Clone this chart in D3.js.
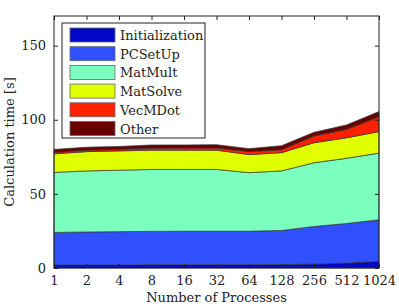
<!DOCTYPE html>
<html>
<head>
    <meta charset="utf-8">
    <script src="https://d3js.org/d3.v7.min.js"></script>
    <style>
        body { margin: 0; background: #fff; }
        text { font-family: "DejaVu Serif", serif; fill: #222; }
    </style>
</head>
<body></body>
<script>
    var processes = ["1", "2", "4", "8", "16", "32", "64", "128", "256", "512", "1024"];
    var seriesNames = ["Initialization", "PCSetUp", "MatMult", "MatSolve", "VecMDot", "Other"];
    var seriesColors = ["#0008c8", "#3050ff", "#7affbf", "#e0ff00", "#ff2000", "#6a0000"];

    var initialization = [2, 2, 2, 2.2, 2.2, 2.2, 2.2, 2.3, 2.7, 3.3, 4.5];
    var pcSetUp = [22, 22.3, 22.5, 22.5, 22.6, 22.6, 22.6, 23, 25.3, 26.7, 28];
    var matMult = [40.5, 41.2, 41.5, 41.8, 41.7, 41.7, 39.5, 40.2, 43, 44, 45];
    var matSolve = [12.5, 13, 13, 13, 13, 13, 12.2, 12.3, 13.5, 13.8, 14.5];
    var vecMDot = [1, 1, 1, 1.3, 1.5, 1.5, 2, 2, 4.5, 5.7, 10];
    var other = [2, 2, 2, 2.2, 2, 2.2, 2, 2.7, 2.5, 3, 3.5];

    var yTicks = [0, 50, 100, 150];

    var margin = {top: 16, right: 20, bottom: 39, left: 54},
        width = 379 - 54,
        height = 268 - 16;
    var fs = 13;

    var svg = d3.select("body").append("svg")
        .attr("width", 399)
        .attr("height", 307)
      .append("g")
        .attr("transform", "translate(" + margin.left + "," + margin.top + ")");

    var x = d3.scalePoint().domain(processes).range([0, width]);
    var y = d3.scaleLinear().domain([0, 170]).range([height, 0]);

    var all = [initialization, pcSetUp, matMult, matSolve, vecMDot, other];
    var rows = processes.map(function(p, i) {
        var r = {p: p};
        seriesNames.forEach(function(n, k) { r[n] = all[k][i]; });
        return r;
    });

    var stacked = d3.stack().keys(seriesNames)(rows);

    var area = d3.area()
        .x(function(d) { return x(d.data.p); })
        .y0(function(d) { return y(d[0]); })
        .y1(function(d) { return y(d[1]); });

    svg.selectAll(".layer").data(stacked).enter()
        .append("path")
            .attr("class", "layer")
            .attr("d", area)
            .attr("fill", function(d, i) { return seriesColors[i]; })
            .attr("stroke", "#333")
            .attr("stroke-width", 0.7)
            .attr("stroke-linejoin", "round");

    // axes, MATLAB style with ticks inside and on all sides
    var tickLen = 4;
    svg.append("g")
        .attr("transform", "translate(0," + height + ")")
        .call(d3.axisBottom(x).tickSizeInner(-tickLen).tickSizeOuter(0).tickPadding(8))
        .call(function(g) { g.select(".domain").remove(); });
    svg.append("g")
        .call(d3.axisTop(x).tickSizeInner(-tickLen).tickSizeOuter(0).tickFormat(""))
        .call(function(g) { g.select(".domain").remove(); });
    svg.append("g")
        .call(d3.axisLeft(y).tickValues(yTicks).tickSizeInner(-tickLen).tickSizeOuter(0).tickPadding(8))
        .call(function(g) { g.select(".domain").remove(); });
    svg.append("g")
        .attr("transform", "translate(" + width + ",0)")
        .call(d3.axisRight(y).tickValues(yTicks).tickSizeInner(-tickLen).tickSizeOuter(0).tickFormat(""))
        .call(function(g) { g.select(".domain").remove(); });

    svg.selectAll(".tick line").attr("stroke", "#222");
    svg.selectAll(".tick text")
        .attr("fill", "#222")
        .attr("font-family", "DejaVu Serif, serif")
        .attr("font-size", fs);

    svg.append("rect")
        .attr("width", width).attr("height", height)
        .attr("fill", "none").attr("stroke", "#222").attr("stroke-width", 1);

    svg.append("text")
        .attr("x", width / 2).attr("y", height + 34)
        .attr("text-anchor", "middle").attr("font-size", fs)
        .text("Number of Processes");
    svg.append("text")
        .attr("transform", "translate(-40," + (height / 2) + ") rotate(-90)")
        .attr("text-anchor", "middle").attr("font-size", fs)
        .text("Calculation time [s]");

    // legend
    var legend = svg.append("g").attr("transform", "translate(8,7)");
    legend.append("rect")
        .attr("width", 143).attr("height", 115)
        .attr("fill", "#fff").attr("stroke", "#222").attr("stroke-width", 1);
    var items = legend.selectAll(".item").data(seriesNames).enter()
        .append("g")
            .attr("transform", function(d, i) { return "translate(8," + (5 + i * 18.7) + ")"; });
    items.append("rect")
        .attr("width", 45).attr("height", 14)
        .attr("fill", function(d, i) { return seriesColors[i]; })
        .attr("stroke", "#666").attr("stroke-width", 0.8);
    items.append("text")
        .attr("x", 50).attr("y", 12)
        .attr("font-size", fs)
        .text(function(d) { return d; });
</script>
</html>
